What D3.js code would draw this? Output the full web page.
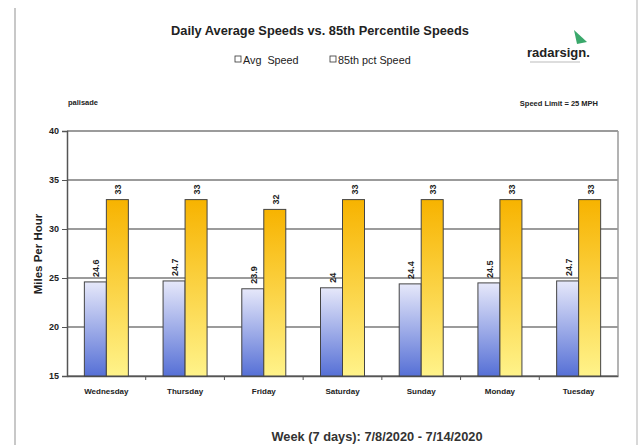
<!DOCTYPE html>
<html><head><meta charset="utf-8">
<script src="https://cdn.jsdelivr.net/npm/d3@7"></script>
<style>body{margin:0;background:#fff}svg{display:block;font-family:"Liberation Sans",Arial,sans-serif}</style>
</head><body><svg id="c" width="644" height="445"></svg>
<script>
const days = ["Wednesday","Thursday","Friday","Saturday","Sunday","Monday","Tuesday"];
const avgSpeed = [24.6, 24.7, 23.9, 24, 24.4, 24.5, 24.7];
const pct85Speed = [33, 33, 32, 33, 33, 33, 33];
const yTicks = [15, 20, 25, 30, 35, 40];
const seriesNames = ["Avg  Speed", "85th pct Speed"];

const svg = d3.select("#c");
const W = 644, H = 445;
const m = {l: 67, r: 618, t: 131, b: 376};

const defs = svg.append("defs");
const gb = defs.append("linearGradient").attr("id","gBlue").attr("x1",0).attr("y1",0).attr("x2",0).attr("y2",1);
gb.append("stop").attr("offset","0%").attr("stop-color","#e6e8fa");
gb.append("stop").attr("offset","100%").attr("stop-color","#5670d6");
const go = defs.append("linearGradient").attr("id","gOr").attr("x1",0).attr("y1",0).attr("x2",0).attr("y2",1);
go.append("stop").attr("offset","0%").attr("stop-color","#f7b300");
go.append("stop").attr("offset","100%").attr("stop-color","#fff38a");

// page borders
svg.append("line").attr("x1",15).attr("x2",15).attr("y1",8).attr("y2",H).attr("stroke","#c8c8c8").attr("stroke-width",2);
svg.append("line").attr("x1",637).attr("x2",637).attr("y1",0).attr("y2",H).attr("stroke","#d8d8d8").attr("stroke-width",2);

const x = d3.scaleBand().domain(days).range([m.l, m.r]).paddingInner(0).paddingOuter(0);
const y = d3.scaleLinear().domain([15, 40]).range([m.b, m.t]);

// gridlines
svg.append("g").selectAll("line").data(yTicks).join("line")
  .attr("x1", m.l).attr("x2", m.r).attr("y1", d => y(d)).attr("y2", d => y(d))
  .attr("stroke", "#7a7a7a").attr("stroke-width", 1.5);
// frame
svg.append("line").attr("x1",m.r).attr("x2",m.r).attr("y1",m.t).attr("y2",m.b).attr("stroke","#9a9a9a").attr("stroke-width",1.5);

// y axis
const yAx = svg.append("g").attr("transform",`translate(${m.l},0)`)
  .call(d3.axisLeft(y).tickValues(yTicks).tickSize(5).tickFormat(d3.format("d")));
yAx.select(".domain").attr("stroke","#555").attr("stroke-width",1.5);
yAx.selectAll(".tick line").attr("stroke","#555");
yAx.selectAll("text").attr("font-size",9).attr("font-weight","bold").attr("fill","#222");

// x axis
const xAx = svg.append("g").attr("transform",`translate(0,${m.b})`)
  .call(d3.axisBottom(x).tickSize(0).tickPadding(12));
xAx.select(".domain").attr("stroke","#555").attr("stroke-width",1.5);
xAx.selectAll("text").attr("font-size",8).attr("font-weight","bold").attr("fill","#222");
svg.append("g").selectAll("line").data(days.slice(1)).join("line")
  .attr("x1", d => x(d)).attr("x2", d => x(d)).attr("y1", m.b).attr("y2", m.b + 4)
  .attr("stroke","#555");

const bw = 22;
const g = svg.append("g");
days.forEach((d, i) => {
  const cx = x(d) + x.bandwidth()/2;
  const vals = [avgSpeed[i], pct85Speed[i]];
  vals.forEach((v, j) => {
    const bx = j === 0 ? cx - bw : cx;
    g.append("rect").attr("x", bx).attr("y", y(v)).attr("width", bw).attr("height", y(15) - y(v))
      .attr("fill", j === 0 ? "url(#gBlue)" : "url(#gOr)")
      .attr("stroke", "#444").attr("stroke-width", 1);
    g.append("text").attr("transform", `translate(${bx + bw/2 + 4},${y(v) - 5}) rotate(-90)`)
      .attr("font-size", 9).attr("font-weight","bold").attr("fill","#222")
      .text(v);
  });
});

// titles
svg.append("text").attr("x", 320).attr("y", 35).attr("text-anchor","middle")
  .attr("font-size", 12.8).attr("font-weight","bold").attr("fill","#222")
  .text("Daily Average Speeds vs. 85th Percentile Speeds");

// legend
const leg = [{x:235, name: seriesNames[0]}, {x:330, name: seriesNames[1]}];
leg.forEach(l => {
  svg.append("rect").attr("x", l.x).attr("y", 56).attr("width", 6).attr("height", 6)
    .attr("fill","#fff").attr("stroke","#333").attr("stroke-width",0.8);
  svg.append("text").attr("x", l.x + 8).attr("y", 63.5).attr("font-size", 10.8).attr("fill","#222")
    .attr("xml:space","preserve").style("white-space","pre").text(l.name);
});

// logo
svg.append("path").attr("d","M574,30 L587,42 L577,44 Z").attr("fill","#3aa86b");
svg.append("text").attr("x", 527).attr("y", 57).attr("font-size", 13).attr("font-weight","bold").attr("fill","#222").text("radarsign.");
svg.append("line").attr("x1",530).attr("x2",580).attr("y1",62).attr("y2",62).attr("stroke","#bbb").attr("stroke-width",1);

svg.append("text").attr("x", 68).attr("y", 105).attr("font-size", 7.5).attr("font-weight","bold").attr("fill","#222").text("palisade");
svg.append("text").attr("x", 598).attr("y", 106).attr("text-anchor","end").attr("font-size", 7.5).attr("font-weight","bold").attr("fill","#222").text("Speed Limit = 25 MPH");

svg.append("text").attr("transform","translate(42,254) rotate(-90)").attr("text-anchor","middle")
  .attr("font-size", 11.5).attr("font-weight","bold").attr("fill","#222").text("Miles Per Hour");

svg.append("text").attr("x", 377).attr("y", 441).attr("text-anchor","middle")
  .attr("font-size", 12.8).attr("font-weight","bold").attr("fill","#333").text("Week (7 days): 7/8/2020 - 7/14/2020");
</script></body></html>
